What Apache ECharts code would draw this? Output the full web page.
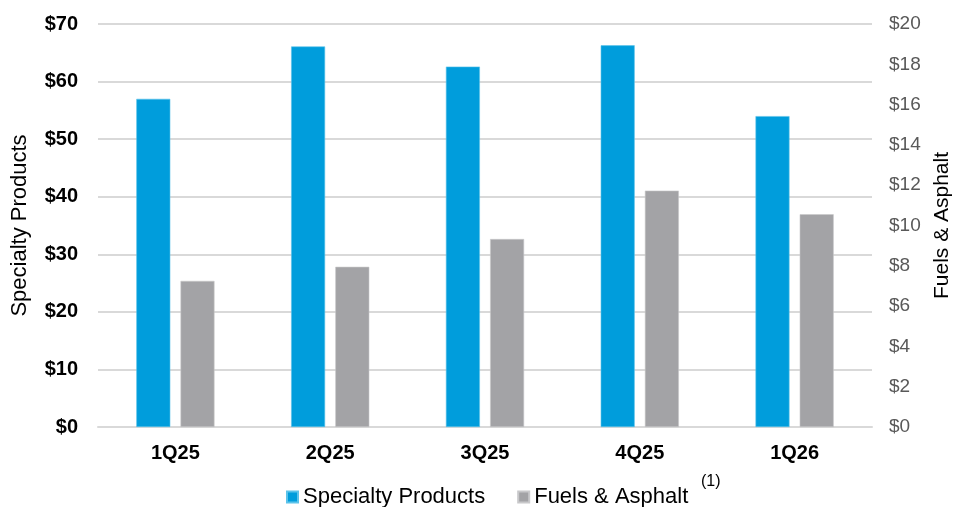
<!DOCTYPE html>
<html>
<head>
<meta charset="utf-8">
<script src="https://cdn.jsdelivr.net/npm/echarts@6/dist/echarts.min.js"></script>
<style>
  html, body { margin: 0; padding: 0; background: #fff; }
  #chart { width: 955px; height: 507px; }
</style>
</head>
<body>
<div id="chart"></div>
<script>
// Quarterly values ($) for the two product lines
const quarters = ['1Q25', '2Q25', '3Q25', '4Q25', '1Q26'];
const specialtyProducts = [57.0, 66.1, 62.6, 66.3, 54.0];
const fuelsAsphalt = [7.25, 7.95, 9.33, 11.73, 10.56];
const leftTicks = { min: 0, max: 70, interval: 10 };
const rightTicks = { min: 0, max: 20, interval: 2 };

const FONT = '"Liberation Sans", Arial, sans-serif';
const chart = echarts.init(document.getElementById('chart'), null, { renderer: 'canvas' });

chart.setOption({
  animation: false,
  textStyle: { fontFamily: FONT },
  grid: { left: 98, right: 83, top: 24, bottom: 80, containLabel: false, outerBoundsMode: 'none' },
  legend: {
    top: 486,
    left: 286,
    padding: 0,
    itemWidth: 11,
    itemHeight: 11,
    itemGap: 32,
    icon: 'rect',
    textStyle: { fontFamily: FONT, fontSize: 22, color: '#000' },
    data: ['Specialty Products', 'Fuels & Asphalt']
  },
  graphic: [{
    type: 'text',
    left: 701,
    top: 474,
    style: { text: '(1)', fontFamily: FONT, fontSize: 16, fill: '#000' }
  }],
  xAxis: {
    type: 'category',
    data: quarters,
    axisLine: { show: true, lineStyle: { color: '#d9d9d9', width: 2 } },
    axisTick: { show: false },
    axisLabel: { fontFamily: FONT, fontSize: 20, fontWeight: 'bold', color: '#000', margin: 16 }
  },
  yAxis: [{
    type: 'value',
    min: leftTicks.min, max: leftTicks.max, interval: leftTicks.interval,
    name: 'Specialty Products',
    nameLocation: 'middle',
    nameGap: 67,
    nameTextStyle: { fontFamily: FONT, fontSize: 22, color: '#000' },
    axisLine: { show: false },
    axisTick: { show: false },
    axisLabel: {
      fontFamily: FONT, fontSize: 20, fontWeight: 'bold', color: '#000', margin: 20,
      formatter: v => '$' + v
    },
    splitLine: { lineStyle: { color: '#d9d9d9', width: 2 } }
  }, {
    type: 'value',
    position: 'right',
    min: rightTicks.min, max: rightTicks.max, interval: rightTicks.interval,
    name: 'Fuels & Asphalt',
    nameLocation: 'middle',
    nameGap: 55,
    nameRotate: 90,
    nameTextStyle: { fontFamily: FONT, fontSize: 21, color: '#000' },
    axisLine: { show: false },
    axisTick: { show: false },
    axisLabel: {
      fontFamily: FONT, fontSize: 19, color: '#595959', margin: 17,
      formatter: v => '$' + v
    },
    splitLine: { show: false }
  }],
  series: [{
    name: 'Specialty Products',
    type: 'bar',
    yAxisIndex: 0,
    data: specialtyProducts,
    barWidth: 34,
    barGap: '30%',
    itemStyle: { color: '#009ddc', borderColor: '#5cc3ea', borderWidth: 0.6 }
  }, {
    name: 'Fuels & Asphalt',
    type: 'bar',
    yAxisIndex: 1,
    data: fuelsAsphalt,
    barWidth: 34,
    barGap: '30%',
    itemStyle: { color: '#a3a3a6', borderColor: '#c8c8ca', borderWidth: 0.6 }
  }]
});
</script>
</body>
</html>
